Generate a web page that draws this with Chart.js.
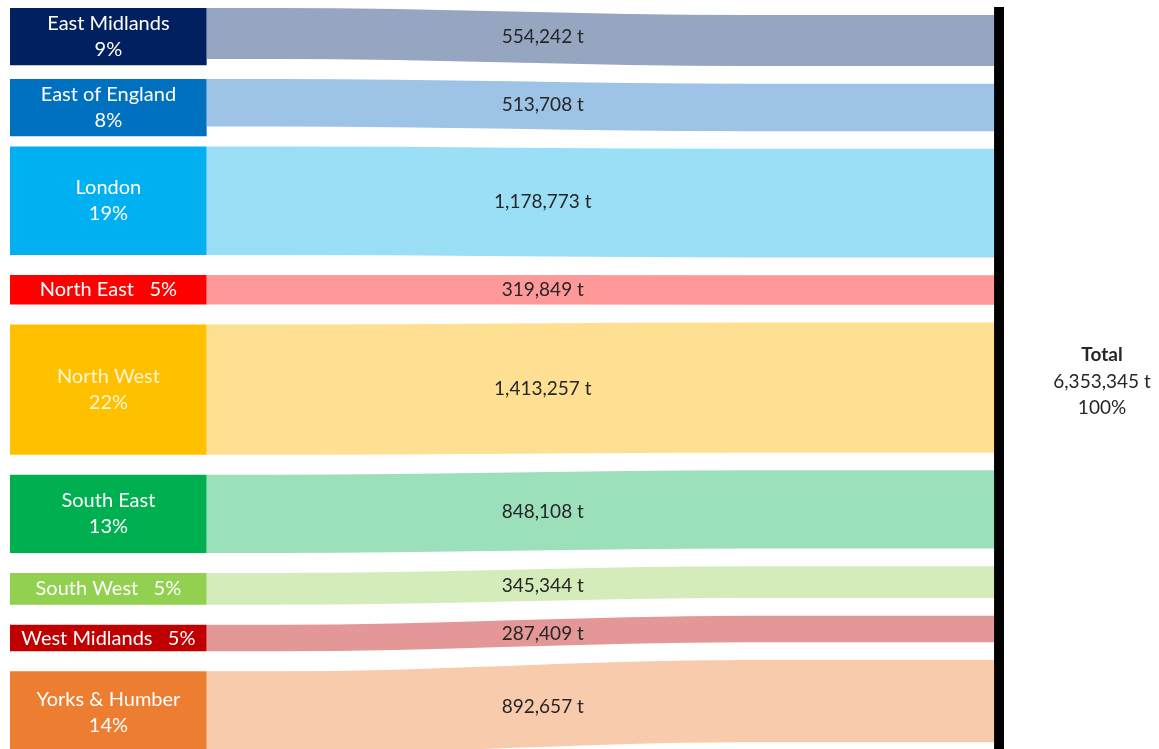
<!DOCTYPE html>
<html>
<head>
<meta charset="utf-8">
<title>Tonnes by region</title>
<script src="https://cdn.jsdelivr.net/npm/chart.js@4.4.1/dist/chart.umd.min.js"></script>
<style>
  html, body { margin: 0; padding: 0; background: #fff; }
  canvas { display: block; }
</style>
</head>
<body>
<canvas id="flowChart" width="1159" height="749"></canvas>
<script>
// Values
const regions = ['East Midlands', 'East of England', 'London', 'North East', 'North West',
    'South East', 'South West', 'West Midlands', 'Yorks & Humber'];
const tonnes = [554242, 513708, 1178773, 319849, 1413257, 848108, 345344, 287409, 892657];
const totalName = 'Total';
const totalTonnes = 6353345;

// Colours (node box / flow band)
const nodeColours = ['#002060', '#0070c0', '#00b0f0', '#ff0000', '#ffc000',
    '#00b050', '#92d050', '#c00000', '#ed7d31'];
const flowColours = ['#97a6c0', '#9dc3e6', '#9bdff7', '#ff9999', '#ffe093',
    '#9ce0bb', '#d4ecba', '#e39797', '#f8cbad'];

// Layout: y in tonnes, x as a fraction of the plot width
const Y_MAX = 8050000;
const LEFT_TOP = 11000;
const LEFT_GAP = 217000;
const RIGHT_TOP = 87000;
const RIGHT_GAP = 192000;
const BOX_MIN = 620000;
const SINGLE_LINE_BELOW = 400000;
const X_BOX = 0.198;
const X_BEND_A = 0.27;
const X_BEND_B = 0.74;
const X_RIGHT = 0.99;
const X_LABEL = 0.536;

// stack the bands on both sides
const leftTop = [];
const rightTop = [];
let yl = LEFT_TOP;
let yr = RIGHT_TOP;
tonnes.forEach(v => {
    leftTop.push(yl);
    rightTop.push(yr);
    yl += v + LEFT_GAP;
    yr += v + RIGHT_GAP;
});
const boxHeight = v => v < SINGLE_LINE_BELOW ? v : Math.max(v, BOX_MIN);

const datasets = [];
function band(xs, tops, bottoms, colour) {
    const style = {
        borderWidth: 0,
        borderColor: 'rgba(0,0,0,0)',
        pointRadius: 0,
        cubicInterpolationMode: 'monotone'
    };
    datasets.push({ ...style, data: xs.map((x, i) => ({ x, y: tops[i] })), fill: false });
    datasets.push({ ...style, data: xs.map((x, i) => ({ x, y: bottoms[i] })), fill: '-1', backgroundColor: colour });
}

// flows first, boxes on top
tonnes.forEach((v, i) => {
    const l = leftTop[i], r = rightTop[i];
    band([X_BOX, X_BEND_A, X_BEND_B, X_RIGHT], [l, l, r, r], [l + v, l + v, r + v, r + v], flowColours[i]);
});
tonnes.forEach((v, i) => {
    const l = leftTop[i], h = boxHeight(v);
    band([0, X_BOX], [l, l], [l + h, l + h], nodeColours[i]);
});
// total node, runs off the bottom of the picture
band([X_RIGHT, 1], [0, 0], [Y_MAX, Y_MAX], '#000000');

const fmt = v => v.toLocaleString('en-US') + ' t';

const labelPlugin = {
    id: 'flowLabels',
    afterDatasetsDraw(chart) {
        const { ctx, chartArea } = chart;
        const x = chart.scales.x;
        const y = chart.scales.y;
        ctx.save();
        ctx.textAlign = 'center';
        ctx.textBaseline = 'middle';

        tonnes.forEach((v, i) => {
            const pct = Math.round(v / totalTonnes * 100) + '%';
            const cx = x.getPixelForValue(X_BOX / 2);
            const cy = y.getPixelForValue(leftTop[i] + boxHeight(v) / 2);
            ctx.fillStyle = i === 4 ? '#fff4d6' : '#ffffff';
            ctx.font = '20px Lato';
            if (v < SINGLE_LINE_BELOW) {
                ctx.fillText(regions[i] + '   ' + pct, cx, cy);
            } else {
                ctx.fillText(regions[i], cx, cy - 13);
                ctx.fillText(pct, cx, cy + 13);
            }

            // value in the band
            ctx.fillStyle = '#262626';
            ctx.font = '19px Lato';
            const vy = y.getPixelForValue((leftTop[i] + rightTop[i] + v) / 2);
            ctx.fillText(fmt(v), x.getPixelForValue(X_LABEL), vy);
        });

        // total on the right
        const tx = chartArea.right + 98;
        const ty = (chartArea.top + chartArea.bottom) / 2 + 4;
        ctx.fillStyle = '#262626';
        ctx.font = 'bold 19px Lato';
        ctx.fillText(totalName, tx, ty - 27);
        ctx.font = '19px Lato';
        ctx.fillText(fmt(totalTonnes), tx, ty);
        ctx.fillText('100%', tx, ty + 26);
        ctx.restore();
    }
};

new Chart(document.getElementById('flowChart'), {
    type: 'line',
    data: { datasets },
    options: {
        responsive: false,
        animation: false,
        events: [],
        layout: { padding: { left: 10, right: 155, top: 7, bottom: 0 } },
        plugins: {
            legend: { display: false },
            tooltip: { enabled: false }
        },
        scales: {
            x: { type: 'linear', min: 0, max: 1, display: false },
            y: { type: 'linear', min: 0, max: Y_MAX, reverse: true, display: false }
        }
    },
    plugins: [labelPlugin]
});
</script>
</body>
</html>
